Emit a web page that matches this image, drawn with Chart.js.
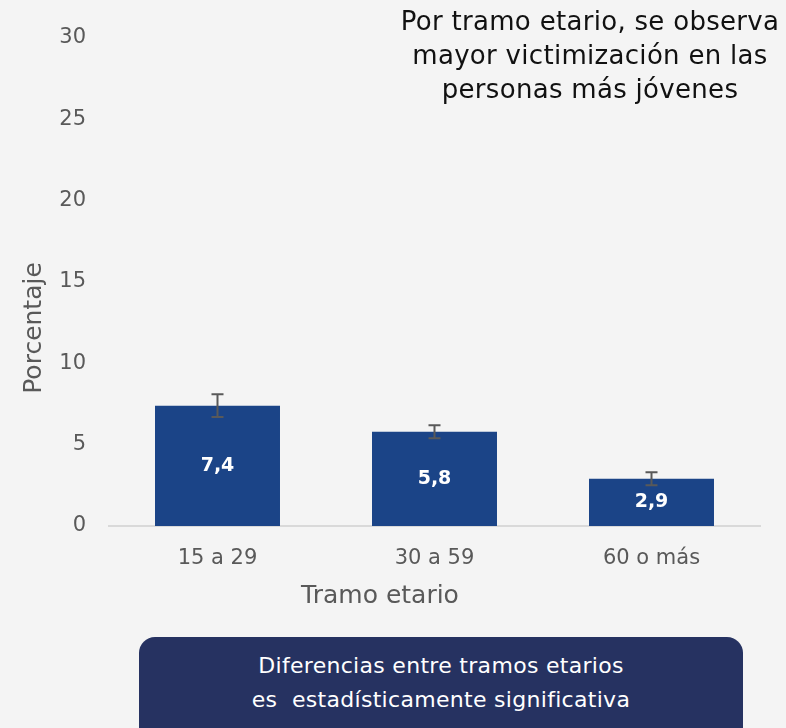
<!DOCTYPE html>
<html>
<head>
<meta charset="utf-8">
<script src="https://cdn.jsdelivr.net/npm/chart.js@4"></script>
<style>
  html, body { margin: 0; padding: 0; background: #f4f4f4; }
  #wrap { position: relative; width: 786px; height: 728px; overflow: hidden; font-family: "DejaVu Sans", sans-serif; }
  #chart { position: absolute; left: 0; top: 0; }
  #note { position: absolute; left: 360px; top: 4px; width: 460px; text-align: center; font-size: 26px; line-height: 34px; letter-spacing: 0.3px; color: #111; }
  #box { position: absolute; left: 139px; top: 637px; width: 604px; height: 120px; background: #263261; border-radius: 16px; color: #fff; text-align: center; font-size: 22px; line-height: 34px; letter-spacing: 0.3px; padding-top: 12px; box-sizing: border-box; }
</style>
</head>
<body>
<div id="wrap">
  <canvas id="chart" width="786" height="728"></canvas>
  <div id="note">Por tramo etario, se observa<br>mayor victimización en las<br>personas más jóvenes</div>
  <div id="box">Diferencias entre tramos etarios<br>es&nbsp; estadísticamente significativa</div>
</div>
<script>
const categories = ['15 a 29', '30 a 59', '60 o más'];
const values = [7.4, 5.8, 2.9];
const lowerCI = [6.7, 5.4, 2.5];
const upperCI = [8.1, 6.2, 3.3];
const yTicks = [0, 5, 10, 15, 20, 25, 30];

const FONT = '"DejaVu Sans", sans-serif';

const extras = {
    id: 'extras',
    afterDatasetsDraw(chart) {
        const ctx = chart.ctx;
        const x = chart.scales.x;
        const y = chart.scales.y;
        ctx.save();
        // error bars
        ctx.strokeStyle = '#595959';
        ctx.lineWidth = 2;
        values.forEach((v, i) => {
            const cx = x.getPixelForValue(i);
            const top = y.getPixelForValue(upperCI[i]);
            const bot = y.getPixelForValue(lowerCI[i]);
            ctx.beginPath();
            ctx.moveTo(cx, top); ctx.lineTo(cx, bot);
            ctx.moveTo(cx - 6, top); ctx.lineTo(cx + 6, top);
            ctx.moveTo(cx - 6, bot); ctx.lineTo(cx + 6, bot);
            ctx.stroke();
        });
        // value labels
        ctx.fillStyle = '#ffffff';
        ctx.font = 'bold 19px ' + FONT;
        ctx.textAlign = 'center';
        ctx.textBaseline = 'middle';
        values.forEach((v, i) => {
            const cx = x.getPixelForValue(i);
            const mid = (y.getPixelForValue(v) + y.getPixelForValue(0)) / 2;
            ctx.fillText(v.toFixed(1).replace('.', ','), cx, mid);
        });
        // axis titles
        ctx.fillStyle = '#595959';
        ctx.font = '25px ' + FONT;
        ctx.fillText('Tramo etario', 380, 596);
        ctx.translate(34, 328);
        ctx.rotate(-Math.PI / 2);
        ctx.fillText('Porcentaje', 0, 0);
        ctx.restore();
    }
};

new Chart(document.getElementById('chart'), {
    type: 'bar',
    data: {
        labels: categories,
        datasets: [{
            data: values,
            backgroundColor: '#1b4487',
            borderWidth: 0,
            barPercentage: 0.576,
            categoryPercentage: 1
        }]
    },
    options: {
        responsive: false,
        animation: false,
        layout: { padding: { top: 38, right: 26, left: 0, bottom: 0 } },
        plugins: { legend: { display: false }, tooltip: { enabled: false } },
        scales: {
            x: {
                grid: { display: false, drawTicks: false },
                border: { display: true, color: '#d9d9d9', width: 2 },
                ticks: { color: '#595959', font: { family: FONT, size: 21 }, padding: 20 },
                afterFit(scale) { scale.height = 202; }
            },
            y: {
                min: 0, max: 30,
                afterBuildTicks(scale) { scale.ticks = yTicks.map(v => ({ value: v })); },
                grid: { display: false, drawTicks: false },
                border: { display: false },
                ticks: { color: '#595959', font: { family: FONT, size: 21 }, padding: 23 },
                afterFit(scale) { scale.width = 109; }
            }
        }
    },
    plugins: [extras]
});
</script>
</body>
</html>
